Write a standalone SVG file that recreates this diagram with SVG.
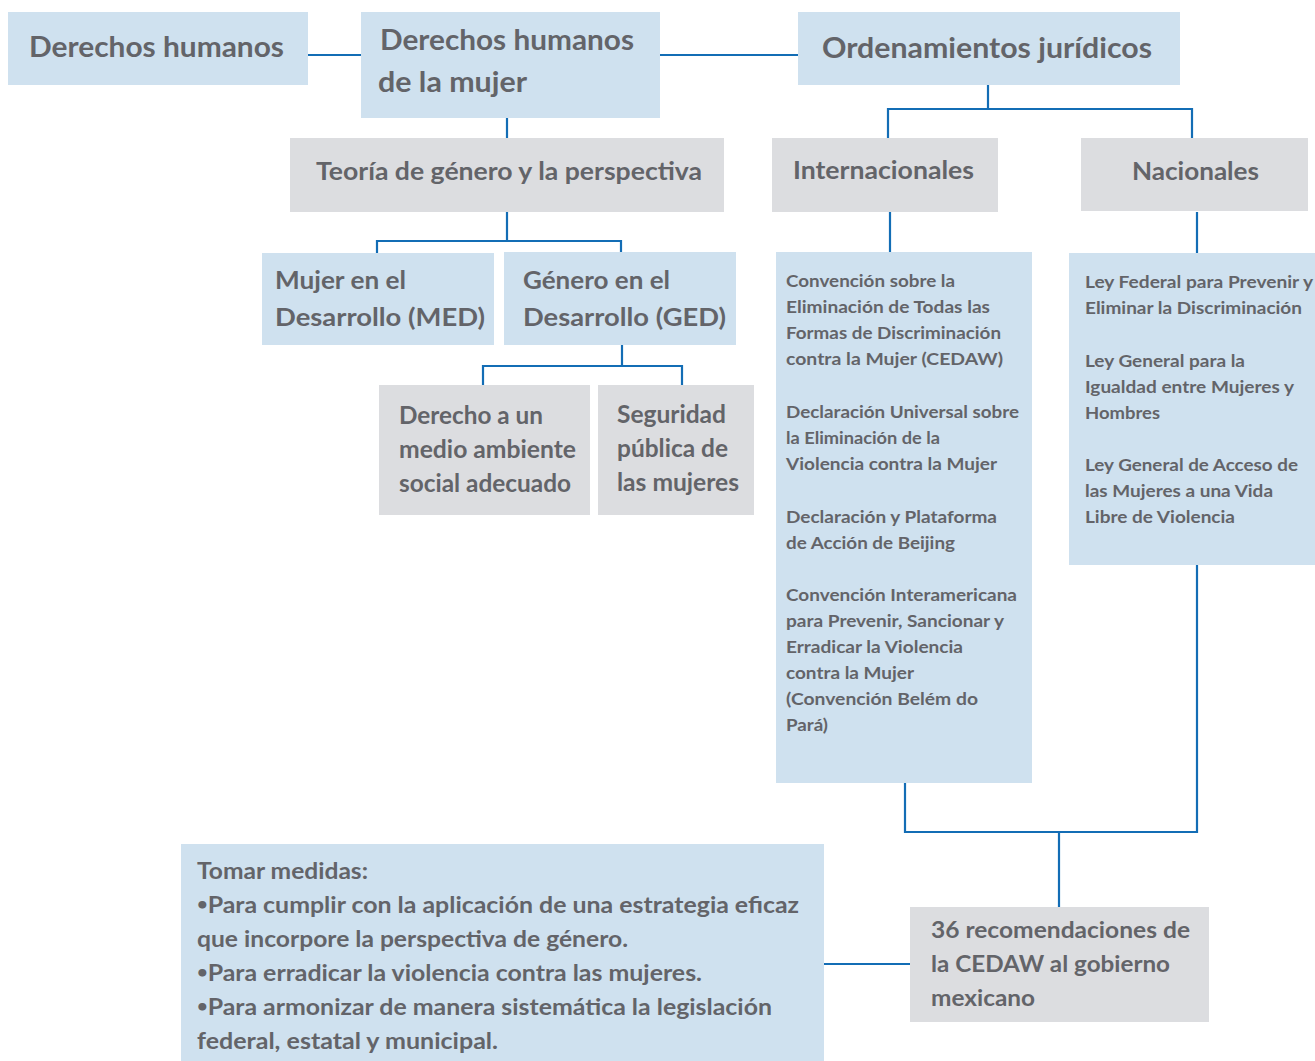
<svg xmlns="http://www.w3.org/2000/svg" width="1315" height="1061" viewBox="0 0 1315 1061">
<style>
.b{fill:#cfe1ef}
.g{fill:#dcdde0}
text{font-family:Lato,"Open Sans","Liberation Sans",sans-serif;font-weight:bold;fill:#636469}
.t28{font-size:28px}
.t25{font-size:25px}
.t24{font-size:24px}
.t23{font-size:23px}
.t17{font-size:17.5px}
.bu{font-size:17px;baseline-shift:3px}
.c{fill:none;stroke:#136db5;stroke-width:2.2}
</style>
<rect width="1315" height="1061" fill="#fff"/>
<g id="connectors">
<path class="c" d="M308 55H361M660 55H798"/>
<path class="c" d="M507 118V138"/>
<path class="c" d="M507 212V241M377 253V241H621V253"/>
<path class="c" d="M622 345V366M483 385V366H682V385"/>
<path class="c" d="M988 85V109M888 138V109H1192V138"/>
<path class="c" d="M890 212V252M1197 212V253"/>
<path class="c" d="M905 783V832H1197V565M1059 832V907"/>
<path class="c" d="M824 964H910"/>
</g>
<g id="n-dh">
<rect class="b" x="8" y="12" width="300" height="73"/>
<text class="t28" x="29" y="57" textLength="255" lengthAdjust="spacingAndGlyphs">Derechos humanos</text>
</g>
<g id="n-dhm">
<rect class="b" x="361" y="12" width="299" height="106"/>
<text class="t28" x="380" y="50" textLength="254" lengthAdjust="spacingAndGlyphs">Derechos humanos</text>
<text class="t28" x="378" y="92" textLength="149" lengthAdjust="spacingAndGlyphs">de la mujer</text>
</g>
<g id="n-oj">
<rect class="b" x="798" y="12" width="382" height="73"/>
<text class="t28" x="822" y="58" textLength="330" lengthAdjust="spacingAndGlyphs">Ordenamientos jurídicos</text>
</g>
<g id="n-teoria">
<rect class="g" x="290" y="138" width="434" height="74"/>
<text class="t25" x="316" y="180" textLength="386" lengthAdjust="spacingAndGlyphs">Teoría de género y la perspectiva</text>
</g>
<g id="n-med">
<rect class="b" x="262" y="253" width="232" height="92"/>
<text class="t25" x="275" y="289" textLength="131" lengthAdjust="spacingAndGlyphs">Mujer en el</text>
<text class="t25" x="275" y="326" textLength="210" lengthAdjust="spacingAndGlyphs">Desarrollo (MED)</text>
</g>
<g id="n-ged">
<rect class="b" x="504" y="252" width="232" height="93"/>
<text class="t25" x="523" y="289" textLength="147" lengthAdjust="spacingAndGlyphs">Género en el</text>
<text class="t25" x="523" y="326" textLength="203" lengthAdjust="spacingAndGlyphs">Desarrollo (GED)</text>
</g>
<g id="n-derecho">
<rect class="g" x="379" y="385" width="211" height="130"/>
<text class="t24" x="399" y="424" textLength="144" lengthAdjust="spacingAndGlyphs">Derecho a un</text>
<text class="t24" x="399" y="458" textLength="177" lengthAdjust="spacingAndGlyphs">medio ambiente</text>
<text class="t24" x="399" y="492" textLength="172" lengthAdjust="spacingAndGlyphs">social adecuado</text>
</g>
<g id="n-seguridad">
<rect class="g" x="598" y="385" width="156" height="130"/>
<text class="t24" x="617" y="423" textLength="109" lengthAdjust="spacingAndGlyphs">Seguridad</text>
<text class="t24" x="617" y="457" textLength="111" lengthAdjust="spacingAndGlyphs">pública de</text>
<text class="t24" x="617" y="491" textLength="122" lengthAdjust="spacingAndGlyphs">las mujeres</text>
</g>
<g id="n-intl">
<rect class="g" x="772" y="138" width="226" height="74"/>
<text class="t24" x="793" y="179" textLength="181" lengthAdjust="spacingAndGlyphs">Internacionales</text>
</g>
<g id="n-nac">
<rect class="g" x="1081" y="138" width="227" height="73"/>
<text class="t24" x="1132" y="180" textLength="127" lengthAdjust="spacingAndGlyphs">Nacionales</text>
</g>
<g id="n-intl-list">
<rect class="b" x="776" y="252" width="256" height="531"/>
<text class="t17" x="786" y="287" textLength="169" lengthAdjust="spacingAndGlyphs">Convención sobre la</text>
<text class="t17" x="786" y="313" textLength="204" lengthAdjust="spacingAndGlyphs">Eliminación de Todas las</text>
<text class="t17" x="786" y="339" textLength="215" lengthAdjust="spacingAndGlyphs">Formas de Discriminación</text>
<text class="t17" x="786" y="365" textLength="217" lengthAdjust="spacingAndGlyphs">contra la Mujer (CEDAW)</text>
<text class="t17" x="786" y="418" textLength="233" lengthAdjust="spacingAndGlyphs">Declaración Universal sobre</text>
<text class="t17" x="786" y="444" textLength="154" lengthAdjust="spacingAndGlyphs">la Eliminación de la</text>
<text class="t17" x="786" y="470" textLength="211" lengthAdjust="spacingAndGlyphs">Violencia contra la Mujer</text>
<text class="t17" x="786" y="523" textLength="211" lengthAdjust="spacingAndGlyphs">Declaración y Plataforma</text>
<text class="t17" x="786" y="549" textLength="169" lengthAdjust="spacingAndGlyphs">de Acción de Beijing</text>
<text class="t17" x="786" y="601" textLength="231" lengthAdjust="spacingAndGlyphs">Convención Interamericana</text>
<text class="t17" x="786" y="627" textLength="218" lengthAdjust="spacingAndGlyphs">para Prevenir, Sancionar y</text>
<text class="t17" x="786" y="653" textLength="177" lengthAdjust="spacingAndGlyphs">Erradicar la Violencia</text>
<text class="t17" x="786" y="679" textLength="128" lengthAdjust="spacingAndGlyphs">contra la Mujer</text>
<text class="t17" x="786" y="705" textLength="192" lengthAdjust="spacingAndGlyphs">(Convención Belém do</text>
<text class="t17" x="786" y="731" textLength="42" lengthAdjust="spacingAndGlyphs">Pará)</text>
</g>
<g id="n-nac-list">
<rect class="b" x="1069" y="253" width="246" height="312"/>
<text class="t17" x="1085" y="288" textLength="228" lengthAdjust="spacingAndGlyphs">Ley Federal para Prevenir y</text>
<text class="t17" x="1085" y="314" textLength="217" lengthAdjust="spacingAndGlyphs">Eliminar la Discriminación</text>
<text class="t17" x="1085" y="367" textLength="160" lengthAdjust="spacingAndGlyphs">Ley General para la</text>
<text class="t17" x="1085" y="393" textLength="209" lengthAdjust="spacingAndGlyphs">Igualdad entre Mujeres y</text>
<text class="t17" x="1085" y="419" textLength="75" lengthAdjust="spacingAndGlyphs">Hombres</text>
<text class="t17" x="1085" y="471" textLength="213" lengthAdjust="spacingAndGlyphs">Ley General de Acceso de</text>
<text class="t17" x="1085" y="497" textLength="188" lengthAdjust="spacingAndGlyphs">las Mujeres a una Vida</text>
<text class="t17" x="1085" y="523" textLength="150" lengthAdjust="spacingAndGlyphs">Libre de Violencia</text>
</g>
<g id="n-36">
<rect class="g" x="910" y="907" width="299" height="115"/>
<text class="t23" x="931" y="938" textLength="259" lengthAdjust="spacingAndGlyphs">36 recomendaciones de</text>
<text class="t23" x="931" y="972" textLength="239" lengthAdjust="spacingAndGlyphs">la CEDAW al gobierno</text>
<text class="t23" x="931" y="1006" textLength="104" lengthAdjust="spacingAndGlyphs">mexicano</text>
</g>
<g id="n-tomar">
<rect class="b" x="181" y="844" width="643" height="217"/>
<text class="t23" x="197" y="879" textLength="171" lengthAdjust="spacingAndGlyphs">Tomar medidas:</text>
<text class="t23" x="197" y="913" textLength="602" lengthAdjust="spacingAndGlyphs"><tspan class="bu">•</tspan>Para cumplir con la aplicación de una estrategia eficaz</text>
<text class="t23" x="197" y="947" textLength="431" lengthAdjust="spacingAndGlyphs">que incorpore la perspectiva de género.</text>
<text class="t23" x="197" y="981" textLength="505" lengthAdjust="spacingAndGlyphs"><tspan class="bu">•</tspan>Para erradicar la violencia contra las mujeres.</text>
<text class="t23" x="197" y="1015" textLength="575" lengthAdjust="spacingAndGlyphs"><tspan class="bu">•</tspan>Para armonizar de manera sistemática la legislación</text>
<text class="t23" x="197" y="1049" textLength="301" lengthAdjust="spacingAndGlyphs">federal, estatal y municipal.</text>
</g>
</svg>
